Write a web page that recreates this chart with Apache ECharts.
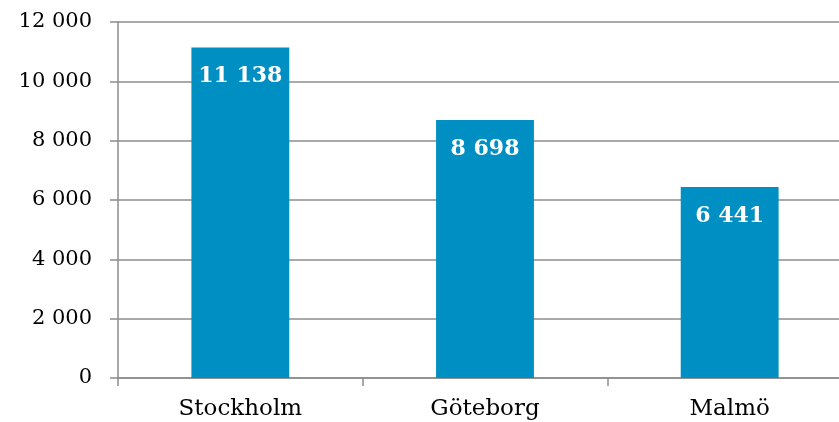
<!DOCTYPE html>
<html>
<head>
<meta charset="utf-8">
<script src="https://cdn.jsdelivr.net/npm/echarts@6/dist/echarts.min.js"></script>
<style>html,body{margin:0;padding:0;background:#fff;overflow:hidden;}#c{width:839px;height:422px;}</style>
</head>
<body>
<div id="c"></div>
<script>
const categories = ["Stockholm", "Göteborg", "Malmö"];
const values = [11138, 8698, 6441];
const yTicks = [0, 2000, 4000, 6000, 8000, 10000, 12000];

function fmt(v) {
  return String(v).replace(/\B(?=(\d{3})+(?!\d))/g, " ");
}
const font = "'DejaVu Serif', 'Liberation Serif', serif";
const chart = echarts.init(document.getElementById('c'));
chart.setOption({
  animation: false,
  grid: { left: 118, width: 734, top: 22, bottom: 44, containLabel: false, outerBoundsMode: 'none' },
  xAxis: {
    type: 'category',
    data: categories,
    axisLine: { lineStyle: { color: '#8c8c8c', width: 1.5 } },
    axisTick: { show: true, length: 8, alignWithLabel: false, lineStyle: { color: '#8c8c8c', width: 1.5 } },
    axisLabel: { margin: 20, color: '#000', fontFamily: font, fontSize: 23 }
  },
  yAxis: {
    type: 'value',
    min: yTicks[0],
    max: yTicks[yTicks.length - 1],
    interval: 2000,
    axisLine: { show: true, lineStyle: { color: '#8c8c8c', width: 1.5 } },
    axisTick: { show: true, length: 8, lineStyle: { color: '#8c8c8c', width: 1.5 } },
    splitLine: { show: true, lineStyle: { color: '#8c8c8c', width: 1.5 } },
    axisLabel: { margin: 26, color: '#000', fontFamily: font, fontSize: 21, formatter: v => fmt(v) }
  },
  series: [{
    type: 'bar',
    data: values,
    barWidth: '40%',
    itemStyle: { color: '#008fc3' },
    label: {
      show: true,
      position: 'insideTop',
      distance: 18,
      color: '#fff',
      fontFamily: font,
      fontWeight: 'bold',
      fontSize: 22,
      formatter: p => fmt(p.value)
    }
  }]
});
</script>
</body>
</html>
